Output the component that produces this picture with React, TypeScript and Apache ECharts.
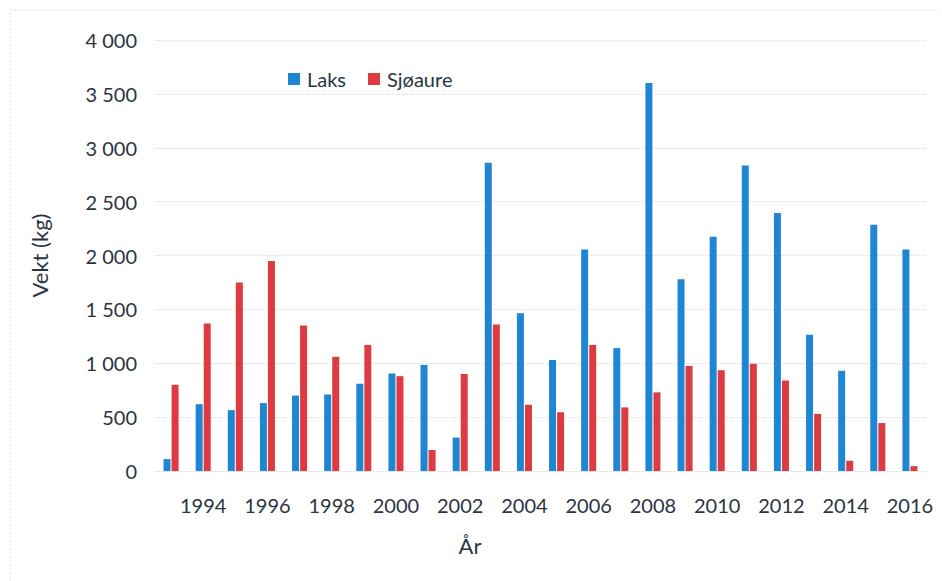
import React, { useEffect, useRef } from "react";
import * as echarts from "echarts";

const years = ["1993","1994","1995","1996","1997","1998","1999","2000","2001","2002","2003","2004","2005","2006","2007","2008","2009","2010","2011","2012","2013","2014","2015","2016"];
const laks = [110, 620, 565, 630, 700, 710, 810, 905, 985, 310, 2860, 1465, 1030, 2055, 1140, 3600, 1780, 2175, 2835, 2395, 1265, 930, 2285, 2055];
const sjoaure = [800, 1370, 1750, 1950, 1350, 1060, 1170, 880, 195, 900, 1360, 615, 545, 1170, 590, 730, 975, 935, 995, 840, 530, 95, 445, 45];

const textColor = "#2b3442";
const font = "Lato, 'Open Sans', sans-serif";

export default function App() {
  const ref = useRef<HTMLDivElement>(null);
  useEffect(() => {
    document.body.style.margin = "0";
    if (!ref.current) return;
    const chart = echarts.init(ref.current, null, { renderer: "svg" });
    chart.setOption({
      animation: false,
      backgroundColor: "#ffffff",
      textStyle: { fontFamily: font, color: textColor },
      grid: { left: 155, right: 16, top: 40, bottom: 110 },
      legend: {
        left: 283,
        top: 64,
        itemWidth: 12,
        itemHeight: 12,
        itemGap: 22,
        icon: "rect",
        textStyle: { fontSize: 20, color: textColor, fontFamily: font, padding: [0, 0, 0, 2] },
        data: ["Laks", "Sjøaure"],
      },
      xAxis: {
        type: "category",
        data: years,
        axisLine: { show: true, lineStyle: { color: "#e4e4e4", type: "dotted" } },
        axisTick: { show: false },
        axisLabel: {
          interval: (idx: number) => idx % 2 === 1,
          fontSize: 20,
          color: textColor,
          fontFamily: font,
          margin: 24,
        },
      },
      yAxis: {
        type: "value",
        min: 0,
        max: 4000,
        interval: 500,
        name: "Vekt (kg)",
        nameLocation: "middle",
        nameGap: 105,
        nameTextStyle: { fontSize: 22, color: textColor, fontFamily: font },
        axisLine: { show: false },
        axisTick: { show: false },
        axisLabel: {
          fontSize: 20,
          color: textColor,
          fontFamily: font,
          margin: 18,
          formatter: (v: number) => (v >= 1000 ? Math.floor(v / 1000) + " " + String(v % 1000).padStart(3, "0") : String(v)),
        },
        splitLine: { show: true, lineStyle: { color: "#dcdcdc", type: "dotted", width: 1 } },
      },
      series: [
        { name: "Laks", type: "bar", data: laks, barWidth: 7, barGap: "15%", itemStyle: { color: "#1f86d3" } },
        { name: "Sjøaure", type: "bar", data: sjoaure, barWidth: 7, itemStyle: { color: "#de3b40" } },
      ],
      graphic: [
        {
          type: "rect",
          shape: { x: 10, y: 10, width: 960, height: 600 },
          style: { fill: "none", stroke: "#e2e2e2", lineWidth: 1, lineDash: [2, 2] },
          silent: true,
        },
        {
          type: "text",
          x: 470,
          y: 545,
          style: { text: "År", fontSize: 22, fill: textColor, fontFamily: font, align: "center", verticalAlign: "middle" },
        },
      ],
    });
    return () => chart.dispose();
  }, []);
  return <div ref={ref} style={{ width: 942, height: 581 }} />;
}
